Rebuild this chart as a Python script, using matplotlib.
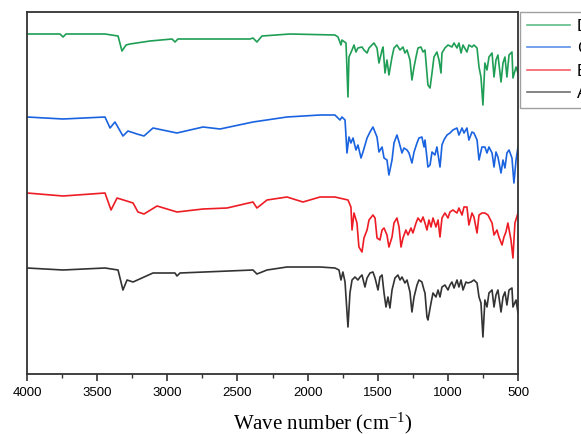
import matplotlib
matplotlib.use("Agg")
import matplotlib.pyplot as plt
from matplotlib.ticker import MultipleLocator

# FTIR spectra, wavenumber in cm-1, intensity in a.u. (already offset)
wn_D = [4000, 3765, 3743, 3722, 3444, 3351, 3323, 3294, 3266, 3123, 2966, 2945, 2924, 2410,
        2389, 2361, 2325, 2125,
        1805, 1783, 1762, 1755, 1726, 1712, 1705, 1683, 1669, 1655, 1641, 1612, 1598, 1576,
        1562, 1541, 1527, 1505, 1491, 1469, 1462, 1448, 1434, 1420, 1398, 1384, 1363, 1341,
        1320, 1306, 1291, 1270, 1256, 1241, 1227, 1213, 1192, 1177, 1163, 1142, 1127, 1113,
        1099, 1078, 1063, 1049, 1042, 1021, 999, 971, 956, 935, 921, 906, 892, 864, 850, 828,
        814, 792, 778, 764, 750, 736, 721, 707, 685, 671, 657, 643, 621, 607, 593, 579, 564,
        543, 536, 514, 500]
D = [340, 340, 337, 340, 340, 338, 323, 329, 330, 333, 335, 332, 335, 335,
     336, 332, 338, 340,
     339, 337, 329, 334, 331, 277, 317, 324, 329, 322, 326, 327, 324, 321,
     326, 329, 331, 326, 311, 324, 327, 301, 314, 299, 317, 326, 329, 324,
     327, 321, 324, 314, 294, 307, 317, 326, 327, 322, 324, 289, 286, 301,
     317, 322, 314, 301, 321, 326, 329, 327, 331, 326, 331, 321, 329, 322, 329, 327,
     329, 326, 307, 297, 269, 311, 304, 317, 321, 297, 314, 319, 292, 311, 317, 297, 319,
     322, 296, 307, 301]

wn_C = [4000, 3743, 3444, 3408, 3373, 3316, 3280, 3216, 3166, 3102, 2931, 2745, 2624, 2389,
        2147, 1911,
        1805, 1769, 1755, 1733, 1719, 1705, 1691, 1676, 1655, 1641, 1619, 1605, 1576, 1555,
        1534, 1505, 1491, 1469, 1455, 1434, 1420, 1398, 1384, 1363, 1348, 1327, 1313, 1291,
        1277, 1256, 1241, 1220, 1206, 1185, 1170, 1163, 1142, 1127, 1113, 1092, 1078, 1056,
        1042, 1028, 1006, 985, 964, 935, 921, 899, 885, 864, 850, 828, 814, 792, 778, 757,
        736, 721, 707, 685, 671, 657, 643, 621, 607, 593, 579, 564, 543, 529, 514, 500]
C = [257, 255, 257, 246, 252, 238, 243, 240, 238, 246, 241, 247, 245, 252,
     257, 259,
     259, 254, 257, 254, 221, 237, 231, 236, 224, 229, 216, 222, 236, 242,
     247, 237, 222, 227, 216, 214, 199, 214, 231, 239, 232, 221, 226, 224,
     221, 211, 222, 231, 236, 237, 227, 234, 207, 209, 222, 219, 227, 207,
     229, 234, 239, 241, 244, 246, 239, 246, 241, 246, 234, 242, 241, 234, 214, 227,
     227, 221, 227, 221, 207, 222, 217, 201, 214, 206, 221, 224, 216, 191, 214, 227]

wn_B = [4000, 3743, 3444, 3401, 3358, 3244, 3209, 3166, 3073, 2931, 2745, 2574, 2389, 2361,
        2289, 2147, 2033, 1911,
        1805, 1712, 1691, 1683, 1669, 1648, 1634, 1612, 1598, 1576, 1562, 1534, 1519, 1505,
        1484, 1469, 1455, 1434, 1420, 1398, 1384, 1363, 1348, 1334, 1320, 1299, 1284, 1263,
        1249, 1227, 1213, 1192, 1177, 1163, 1149, 1135, 1120, 1106, 1085, 1070, 1056, 1042,
        1021, 999, 985, 964, 935, 921, 899, 885, 864, 850, 828, 814, 792, 778, 757, 736,
        714, 685, 671, 650, 636, 614, 600, 586, 572, 550, 536, 522, 500]
B = [181, 178, 181, 164, 176, 171, 162, 160, 168, 162, 165, 166, 172, 166,
     174, 177, 172, 177,
     177, 174, 167, 144, 161, 151, 127, 122, 136, 144, 154, 159, 156, 136,
     134, 144, 146, 139, 127, 137, 151, 156, 147, 127, 136, 144, 139, 146,
     141, 151, 156, 152, 157, 151, 144, 154, 147, 156, 147, 154, 137, 156,
     161, 156, 162, 164, 161, 166, 159, 167, 167, 149, 161, 157, 141, 159, 161, 161,
     159, 151, 139, 144, 137, 129, 137, 142, 151, 134, 116, 151, 161]

wn_A = [4000, 3743, 3444, 3351, 3316, 3287, 3244, 3102, 2945, 2931, 2909, 2389, 2361, 2289,
        2147, 1911,
        1805, 1776, 1762, 1748, 1733, 1712, 1698, 1683, 1662, 1641, 1626, 1612, 1591, 1576,
        1555, 1534, 1519, 1498, 1484, 1469, 1455, 1441, 1427, 1413, 1398, 1377, 1356, 1341,
        1327, 1306, 1291, 1270, 1256, 1241, 1220, 1206, 1185, 1170, 1163, 1149, 1142, 1120,
        1106, 1085, 1070, 1056, 1042, 1021, 999, 985, 971, 956, 935, 921, 906, 892, 871,
        857, 835, 814, 792, 778, 764, 750, 736, 721, 707, 685, 671, 657, 643, 621, 607,
        593, 579, 564, 543, 536, 514, 500]
A = [106, 104, 106, 104, 84, 94, 92, 101, 101, 98, 101, 104, 100, 104,
     107, 107,
     106, 104, 94, 102, 92, 47, 81, 94, 97, 94, 97, 99, 87, 96,
     101, 102, 96, 84, 97, 99, 81, 67, 77, 66, 84, 96, 99, 94,
     97, 91, 94, 82, 62, 77, 89, 94, 92, 84, 81, 57, 54, 71,
     81, 77, 84, 77, 87, 89, 84, 89, 92, 86, 94, 87, 94, 84, 92,
     91, 92, 94, 91, 77, 71, 37, 74, 67, 81, 84, 67, 79, 84, 62, 77,
     82, 69, 84, 86, 67, 74, 61]

labels = ["D", "C", "B", "A"]
colors = ["#1f9e55", "#1a63e0", "#ee1c24", "#333333"]

plt.rcParams['mathtext.default'] = 'regular'

fig = plt.figure(figsize=(5.81, 4.34), dpi=100)
ax = fig.add_axes([27/581, 60/434, 491/581, 362/434])

for wn, y, lab, c in zip([wn_D, wn_C, wn_B, wn_A], [D, C, B, A], labels, colors):
    ax.plot(wn, y, color=c, lw=1.2, label=lab)

ax.set_xlim(4000, 500)
ax.set_ylim(0, 362)
ax.set_yticks([])
ax.xaxis.set_major_locator(MultipleLocator(500))
ax.xaxis.set_minor_locator(MultipleLocator(250))
ax.tick_params(axis='x', which='major', direction='out', length=5, width=1.2,
               color='#333333', labelsize=9.5, pad=4)
ax.tick_params(axis='x', which='minor', direction='out', length=3, width=1.0, color='#333333')
for lbl in ax.get_xticklabels():
    lbl.set_family('Liberation Sans')
for s in ax.spines.values():
    s.set_color('#333333')
    s.set_linewidth(1.3)

ax.set_xlabel('Wave number (cm$^{-1}$)', family='Liberation Serif', fontsize=15)
# label sits right of the axes centre in the original
ax.xaxis.set_label_coords(0.603, -0.102)

leg = ax.legend(loc='upper left', bbox_to_anchor=(520/581, 422/434),
                bbox_transform=fig.transFigure, borderaxespad=0, fancybox=False,
                prop={'family': 'Liberation Sans', 'size': 12}, handlelength=2.6,
                labelspacing=0.45, handletextpad=0.4, borderpad=0.4, framealpha=1)
leg.get_frame().set_edgecolor('#a0a0a0')
leg.get_frame().set_linewidth(1.0)
for h in leg.get_lines():
    h.set_alpha(0.7)

fig.savefig('out.png', dpi=100)
